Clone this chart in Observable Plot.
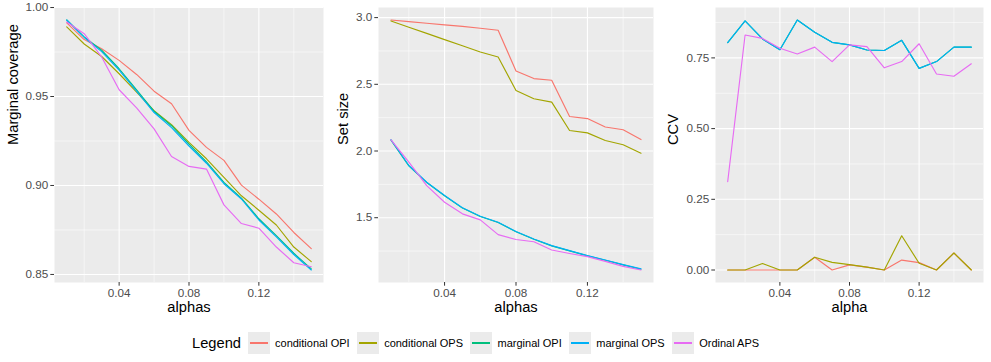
<!DOCTYPE html>
<html>
<head>
<meta charset="utf-8">
<script src="https://cdn.jsdelivr.net/npm/d3@7"></script>
<script src="https://cdn.jsdelivr.net/npm/@observablehq/plot@0.6"></script>
<style>
  html, body { margin: 0; padding: 0; background: #fff; }
  #wrap { position: relative; width: 991px; height: 362px; font-family: "Liberation Sans", Arial, sans-serif; }
  .panel { position: absolute; top: 0; }
  #legend { position: absolute; top: 332px; left: 192px; height: 22px; display: flex; align-items: center; white-space: nowrap; }
  #legend .title { font-size: 14.7px; color: #000; margin-right: 6.5px; }
  #legend .key { width: 22px; height: 22px; background: #EBEBEB; position: relative; margin-right: 5.5px; flex: none; }
  #legend .key span { position: absolute; left: 2px; width: 18px; top: 10px; height: 2px; }
  #legend .lab { font-size: 11px; color: #000; margin-right: 7px; }
</style>
</head>
<body>
<div id="wrap">
  <div class="panel" id="p1" style="left:0px"></div>
  <div class="panel" id="p2" style="left:330px"></div>
  <div class="panel" id="p3" style="left:660px"></div>
  <div id="legend"></div>
</div>
<script>
const alphas = [0.01,0.02,0.03,0.04,0.05,0.06,0.07,0.08,0.09,0.10,0.11,0.12,0.13,0.14,0.15];
const methods = ["conditional OPI", "conditional OPS", "marginal OPI", "marginal OPS", "Ordinal APS"];
const colors = ["#F8766D", "#A3A500", "#00BF7D", "#00B0F6", "#E76BF3"];

// Panel 1: marginal coverage
const covCondOPI = [0.9914,0.9820,0.9769,0.9703,0.9624,0.9530,0.9459,0.9310,0.9214,0.9141,0.9002,0.8923,0.8840,0.8736,0.8645];
const covCondOPS = [0.9891,0.9795,0.9725,0.9628,0.9525,0.9420,0.9342,0.9242,0.9150,0.9045,0.8942,0.8861,0.8778,0.8654,0.8572];
const covMargOPI = [0.9930,0.9835,0.9760,0.9656,0.9537,0.9417,0.9336,0.9232,0.9132,0.9017,0.8929,0.8813,0.8718,0.8619,0.8531];
const covMargOPS = [0.9930,0.9832,0.9752,0.9648,0.9530,0.9410,0.9325,0.9222,0.9125,0.9010,0.8924,0.8806,0.8711,0.8612,0.8525];
const covAPS     = [0.9919,0.9853,0.9722,0.9538,0.9436,0.9318,0.9163,0.9107,0.9092,0.8891,0.8786,0.8760,0.8654,0.8566,0.8543];

// Panel 2: set size
const sizeCondOPI = [2.982,2.970,2.958,2.946,2.934,2.920,2.905,2.600,2.543,2.530,2.259,2.243,2.180,2.159,2.086];
const sizeCondOPS = [2.975,2.928,2.882,2.835,2.789,2.742,2.705,2.454,2.392,2.366,2.154,2.136,2.079,2.047,1.983];
const sizeMargOPI = [2.082,1.889,1.764,1.664,1.572,1.509,1.464,1.395,1.339,1.289,1.251,1.214,1.181,1.146,1.114];
const sizeMargOPS = [2.084,1.891,1.766,1.666,1.574,1.511,1.466,1.397,1.341,1.291,1.253,1.216,1.183,1.148,1.116];
const sizeAPS     = [2.084,1.916,1.741,1.616,1.529,1.484,1.373,1.337,1.320,1.258,1.232,1.208,1.173,1.135,1.108];

// Panel 3: CCV
const ccvCondOPI = [0,0,0,0,0,0.045,0,0.018,0.010,0,0.035,0.026,0,0.060,0];
const ccvCondOPS = [0,0,0.023,0,0,0.045,0.027,0.019,0.010,0,0.121,0.024,0,0.060,0];
const ccvMargOPI = [0.804,0.881,0.817,0.779,0.884,0.841,0.805,0.796,0.778,0.776,0.812,0.713,0.737,0.788,0.788];
const ccvMargOPS = [0.804,0.881,0.817,0.779,0.884,0.841,0.805,0.796,0.778,0.776,0.812,0.713,0.737,0.788,0.788];
const ccvAPS     = [0.312,0.831,0.819,0.784,0.764,0.788,0.737,0.796,0.790,0.715,0.737,0.800,0.693,0.685,0.729];

const xMajor = [0.04, 0.08, 0.12];
const xMinor = [0.02, 0.06, 0.10, 0.14];

const FONT = '"Liberation Sans", Arial, sans-serif';

function longData(series) {
  const out = [];
  series.forEach((vals, i) => vals.forEach((v, j) => out.push({method: methods[i], alpha: alphas[j], value: v})));
  return out;
}
function expand(ext) {
  const r = ext[1] - ext[0];
  return [ext[0] - 0.05 * r, ext[1] + 0.05 * r];
}

function panel(opts) {
  const data = longData(opts.series);
  const xDom = expand(d3.extent(alphas));
  const yDom = expand(d3.extent(data, d => d.value));
  return Plot.plot({
    width: opts.width,
    height: 325,
    marginTop: 7,
    marginBottom: 43,
    marginLeft: opts.ml,
    marginRight: opts.mr,
    style: {fontFamily: FONT, fontSize: "11.7px", background: "transparent", overflow: "visible"},
    x: {domain: xDom},
    y: {domain: yDom},
    color: {domain: methods, range: colors},
    marks: [
      Plot.frame({fill: "#EBEBEB", stroke: null}),
      Plot.ruleX(xMinor, {stroke: "#fff", strokeWidth: 0.55}),
      Plot.ruleY(opts.yMinor, {stroke: "#fff", strokeWidth: 0.55}),
      Plot.ruleX(xMajor, {stroke: "#fff", strokeWidth: 1.1}),
      Plot.ruleY(opts.yMajor, {stroke: "#fff", strokeWidth: 1.1}),
      Plot.line(data, {x: "alpha", y: "value", z: "method", stroke: "method", strokeWidth: 1.15}),
      Plot.axisX({ticks: xMajor, tickFormat: d3.format(".2f"), tickSize: 3.7, tickPadding: 2.5, stroke: "#333333", fill: "#4D4D4D", fontSize: 11.7, label: null}),
      Plot.axisY({ticks: opts.yMajor, tickFormat: d3.format(opts.yFmt), tickSize: 3.7, tickPadding: 2.5, stroke: "#333333", fill: "#4D4D4D", fontSize: 11.7, label: null}),
      Plot.text([opts.xTitle], {frameAnchor: "bottom", dy: 29, fontSize: 14.7, fill: "#000", text: d => d}),
      Plot.text([opts.yTitle], {frameAnchor: "left", dx: -(opts.ml - 13), rotate: -90, fontSize: 14.7, fill: "#000", text: d => d})
    ]
  });
}

document.getElementById("p1").appendChild(panel({
  width: 330, ml: 54, mr: 7,
  series: [covCondOPI, covCondOPS, covMargOPI, covMargOPS, covAPS],
  yMajor: [0.85, 0.90, 0.95, 1.00], yMinor: [0.875, 0.925, 0.975], yFmt: ".2f",
  xTitle: "alphas", yTitle: "Marginal coverage"
}));
document.getElementById("p2").appendChild(panel({
  width: 330, ml: 48, mr: 7,
  series: [sizeCondOPI, sizeCondOPS, sizeMargOPI, sizeMargOPS, sizeAPS],
  yMajor: [1.5, 2.0, 2.5, 3.0], yMinor: [1.25, 1.75, 2.25, 2.75], yFmt: ".1f",
  xTitle: "alphas", yTitle: "Set size"
}));
document.getElementById("p3").appendChild(panel({
  width: 331, ml: 55, mr: 8,
  series: [ccvCondOPI, ccvCondOPS, ccvMargOPI, ccvMargOPS, ccvAPS],
  yMajor: [0, 0.25, 0.5, 0.75], yMinor: [0.125, 0.375, 0.625, 0.875], yFmt: ".2f",
  xTitle: "alpha", yTitle: "CCV"
}));

// Legend
const leg = document.getElementById("legend");
const t = document.createElement("div");
t.className = "title"; t.textContent = "Legend";
leg.appendChild(t);
methods.forEach((m, i) => {
  const k = document.createElement("div");
  k.className = "key";
  const s = document.createElement("span");
  s.style.background = colors[i];
  k.appendChild(s);
  leg.appendChild(k);
  const l = document.createElement("div");
  l.className = "lab"; l.textContent = m;
  leg.appendChild(l);
});
</script>
</body>
</html>
